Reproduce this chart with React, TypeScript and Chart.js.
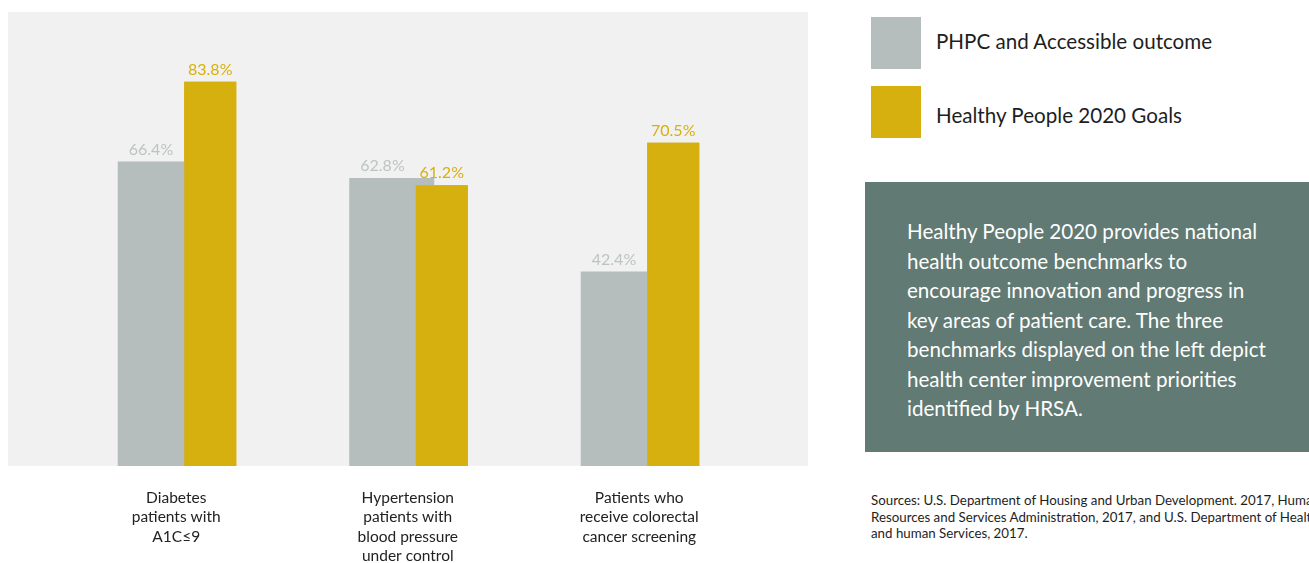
import React, { useEffect, useRef } from "react";
import { Chart, registerables } from "chart.js";

Chart.register(...registerables);

const categories: string[][] = [
  ["Diabetes", "patients with", "A1C≤9"],
  ["Hypertension", "patients with", "blood pressure", "under control"],
  ["Patients who", "receive colorectal", "cancer screening"],
];
const seriesNames = ["PHPC and Accessible outcome", "Healthy People 2020 Goals"];
const phpcValues = [66.4, 62.8, 42.4];
const goalValues = [83.8, 61.2, 70.5];
const colors = ["#b5bebc", "#d6b00e"];
const labelColors = ["#bcc4c2", "#d6b00e"];

const FONT = "Lato, 'Noto Sans', sans-serif";

const panelPlugin = {
  id: "panelBg",
  beforeDraw(chart: any) {
    const { ctx } = chart;
    ctx.save();
    ctx.fillStyle = "#f1f1f1";
    ctx.fillRect(0, 4, 800, chart.chartArea.bottom - 4);
    ctx.restore();
  },
};

const valueLabelPlugin = {
  id: "valueLabels",
  afterDatasetsDraw(chart: any) {
    const { ctx } = chart;
    const m0 = chart.getDatasetMeta(0);
    const m1 = chart.getDatasetMeta(1);
    // draw the goal bars again so they sit over the wider grey bars
    m1.controller.draw();
    ctx.save();
    ctx.font = `16px ${FONT}`;
    ctx.textAlign = "center";
    ctx.textBaseline = "bottom";
    m0.data.forEach((bar: any, i: number) => {
      const gold = m1.data[i];
      const grayLeft = bar.x - bar.width / 2;
      const goldLeft = gold.x - gold.width / 2;
      ctx.fillStyle = labelColors[0];
      ctx.fillText(phpcValues[i].toFixed(1) + "%", (grayLeft + goldLeft) / 2, bar.y - 4);
      ctx.fillStyle = labelColors[1];
      ctx.fillText(goalValues[i].toFixed(1) + "%", gold.x, gold.y - 4);
    });
    ctx.restore();
  },
};

export default function App() {
  const ref = useRef<HTMLCanvasElement>(null);
  useEffect(() => {
    if (!ref.current) return;
    const chart = new Chart(ref.current, {
      type: "bar",
      data: {
        labels: categories,
        datasets: [
          {
            label: seriesNames[0],
            data: phpcValues,
            backgroundColor: colors[0],
            barPercentage: 1.7,
            categoryPercentage: 0.432,
          },
          {
            label: seriesNames[1],
            data: goalValues,
            backgroundColor: colors[1],
            barPercentage: 1.04,
            categoryPercentage: 0.432,
          },
        ],
      },
      options: {
        animation: false,
        responsive: false,
        maintainAspectRatio: false,
        layout: { padding: { left: 61.5, right: 54, top: 4, bottom: 0 } },
        plugins: {
          legend: { display: false },
          tooltip: { enabled: false },
        },
        scales: {
          y: { display: false, min: 0, max: 99 },
          x: {
            grid: { display: false, drawTicks: false },
            border: { display: false },
            ticks: {
              color: "#222222",
              font: { family: FONT, size: 15.5, lineHeight: 1.26 },
              padding: 22,
              labelOffset: -9,
              maxRotation: 0,
              autoSkip: false,
            },
          },
        },
      },
      plugins: [panelPlugin, valueLabelPlugin],
    });
    return () => chart.destroy();
  }, []);

  return (
    <div style={{ position: "absolute", left: 8, top: 8, width: 1301, height: 555, overflow: "hidden", fontFamily: FONT }}>
      <canvas ref={ref} width={810} height={580} style={{ position: "absolute", left: 0, top: 0, width: 810, height: 580 }} />
      {seriesNames.map((name, i) => (
        <React.Fragment key={name}>
          <div style={{ position: "absolute", left: 863, top: 9 + i * 69, width: 50, height: 52, background: colors[i] }} />
          <div
            style={{
              position: "absolute",
              left: 928,
              top: (i === 0 ? 33 : 107) - 15,
              height: 30,
              lineHeight: "30px",
              fontSize: 20.6,
              color: "#1e1e1e",
              whiteSpace: "nowrap",
            }}
          >
            {name}
          </div>
        </React.Fragment>
      ))}
      <div
        style={{
          position: "absolute",
          left: 857,
          top: 174,
          width: 452,
          height: 270,
          background: "#617a73",
          color: "#ffffff",
          fontSize: 20.6,
          lineHeight: "29.5px",
          boxSizing: "border-box",
          padding: "35px 44px 0 42px",
        }}
      >
        Healthy People 2020 provides national health outcome benchmarks to encourage innovation and progress in key areas of patient care. The three benchmarks displayed on the left depict health center improvement priorities identified by HRSA.
      </div>
      <div
        style={{
          position: "absolute",
          left: 863,
          top: 484,
          width: 480,
          fontSize: 13.3,
          lineHeight: "16.5px",
          color: "#1e1e1e",
          whiteSpace: "nowrap",
        }}
      >
        <div>Sources: U.S. Department of Housing and Urban Development. 2017, Human</div>
        <div>Resources and Services Administration, 2017, and U.S. Department of Health</div>
        <div>and human Services, 2017.</div>
      </div>
    </div>
  );
}
